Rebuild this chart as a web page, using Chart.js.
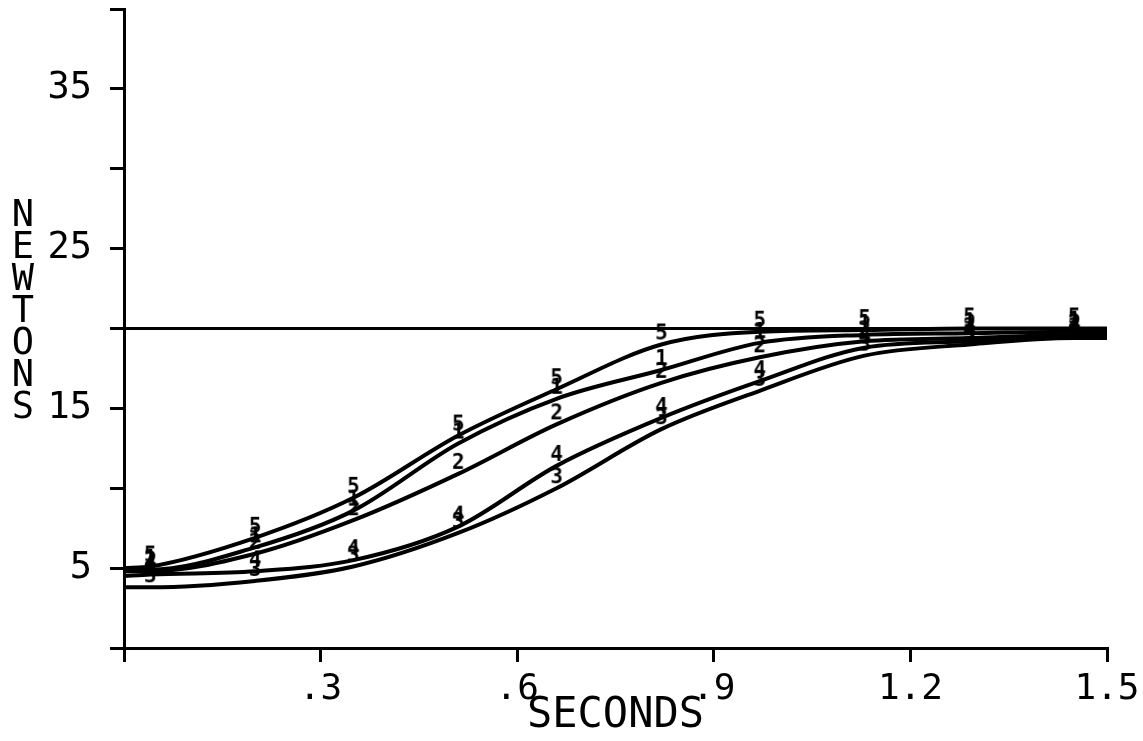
<!DOCTYPE html>
<html>
<head>
<meta charset="utf-8">
<script src="https://cdn.jsdelivr.net/npm/chart.js@4"></script>
<style>
  body { margin: 0; background: #fff; }
</style>
</head>
<body>
<canvas id="forceCanvas" width="1143" height="741"></canvas>
<script>
// sample times (s) and force readings (N) for each numbered run
const seconds = [0, 0.04, 0.2, 0.35, 0.51, 0.66, 0.82, 0.97, 1.13, 1.29, 1.45, 1.5];
const run5 = [5.0, 5.1, 6.9, 9.4, 13.3, 16.2, 19.0, 19.8, 19.9, 20.0, 20.0, 20.0];
const run1 = [4.9, 4.9, 6.3, 8.6, 12.8, 15.6, 17.4, 19.1, 19.6, 19.7, 19.8, 19.8];
const run2 = [4.8, 4.8, 5.9, 8.0, 10.9, 14.0, 16.6, 18.2, 19.2, 19.4, 19.6, 19.6];
const run4 = [4.5, 4.6, 4.8, 5.5, 7.6, 11.4, 14.4, 16.7, 18.8, 19.2, 19.5, 19.5];
const run3 = [3.8, 3.8, 4.2, 5.1, 7.2, 10.0, 13.7, 16.1, 18.3, 19.0, 19.4, 19.4];
const runNames = ["5", "1", "2", "4", "3"];
const runs = [run5, run1, run2, run4, run3];
const targetForce = 20;

const xTickLabels = ["", ".3", ".6", ".9", "1.2", "1.5"];
const yTickLabels = ["", "5", "", "15", "", "25", "", "35", ""];
const yTitle = ["N", "E", "W", "T", "O", "N", "S"];

const FONT = '"DejaVu Sans Mono", "Liberation Mono", monospace';

function digitMarker(d) {
    const c = document.createElement("canvas");
    c.width = 20;
    c.height = 44;
    const g = c.getContext("2d");
    g.font = "bold 21px " + FONT;
    g.textAlign = "center";
    g.textBaseline = "middle";
    g.fillStyle = "#000";
    g.fillText(d, 10, 12);
    return c;
}

const runSets = runs.map((vals, k) => {
    const marker = digitMarker(runNames[k]);
    return {
        label: runNames[k],
        data: seconds.map((t, i) => ({ x: t, y: vals[i] })),
        borderColor: "#000",
        borderWidth: 4,
        cubicInterpolationMode: "monotone",
        pointStyle: marker,
        pointRadius: (ctx) => (ctx.dataIndex === 0 || ctx.dataIndex === seconds.length - 1) ? 0 : 3
    };
});

runSets.push({
    label: "target",
    data: [{ x: 0, y: targetForce }, { x: 1.5, y: targetForce }],
    borderColor: "#000",
    borderWidth: 3,
    pointRadius: 0
});

// stacked letters of the force axis title
const stackedTitle = {
    id: "stackedTitle",
    afterDraw(chart) {
        const ctx = chart.ctx;
        const y = chart.scales.y;
        ctx.save();
        ctx.font = "37px " + FONT;
        ctx.fillStyle = "#000";
        ctx.textAlign = "center";
        ctx.textBaseline = "middle";
        yTitle.forEach((ch, i) => {
            ctx.fillText(ch, 23, y.getPixelForValue(27 - i * 2));
        });
        ctx.restore();
    }
};

new Chart(document.getElementById("forceCanvas"), {
    type: "line",
    data: { datasets: runSets },
    options: {
        responsive: false,
        animation: false,
        devicePixelRatio: 1,
        layout: { padding: { left: 0, top: 9, right: 36, bottom: 0 } },
        plugins: {
            legend: { display: false },
            tooltip: { enabled: false }
        },
        scales: {
            x: {
                type: "linear",
                min: 0,
                max: 1.5,
                afterFit: (s) => { s.height = 93; s.paddingLeft = 0; s.paddingRight = 0; },
                border: { color: "#000", width: 3 },
                grid: { drawOnChartArea: false, color: "#000", lineWidth: 3, tickLength: 14 },
                ticks: {
                    stepSize: 0.3,
                    padding: 6,
                    maxRotation: 0,
                    color: "#000",
                    font: { family: FONT, size: 36 },
                    callback: (v, i) => xTickLabels[i]
                },
                title: {
                    display: true,
                    text: "SECONDS",
                    color: "#000",
                    padding: 0,
                    font: { family: FONT, size: 42 }
                }
            },
            y: {
                min: 0,
                max: 40,
                afterFit: (s) => { s.width = 124; s.paddingTop = 0; s.paddingBottom = 0; },
                border: { color: "#000", width: 3 },
                grid: { drawOnChartArea: false, color: "#000", lineWidth: 3, tickLength: 14 },
                ticks: {
                    stepSize: 5,
                    padding: 18,
                    color: "#000",
                    font: { family: FONT, size: 37 },
                    callback: (v, i) => yTickLabels[i]
                }
            }
        }
    },
    plugins: [stackedTitle]
});
</script>
</body>
</html>
